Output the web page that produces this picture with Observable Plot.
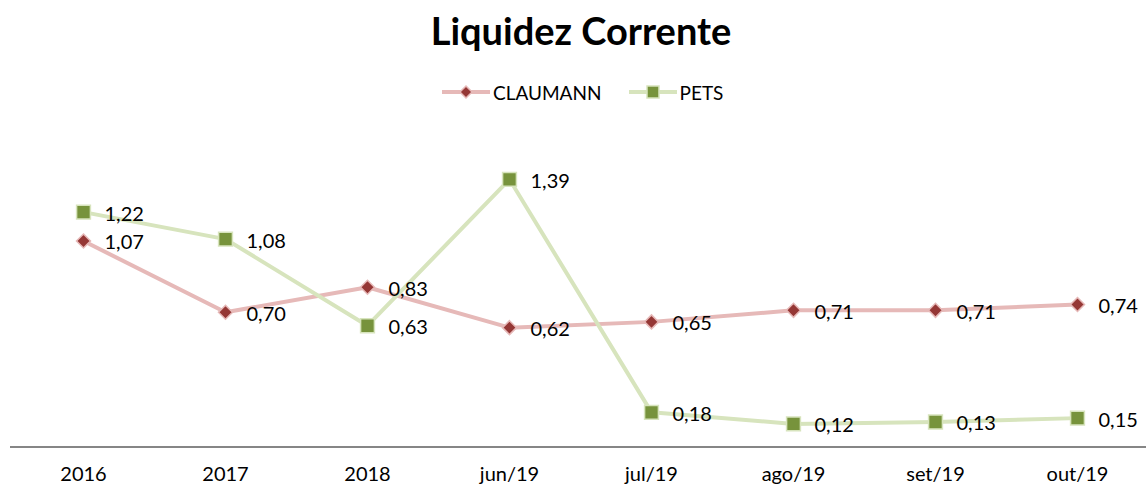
<!DOCTYPE html>
<html>
<head>
<meta charset="utf-8">
<script src="https://cdn.jsdelivr.net/npm/d3@7"></script>
<script src="https://cdn.jsdelivr.net/npm/@observablehq/plot@0.6"></script>
<style>
  html, body { margin: 0; padding: 0; background: #fff; }
  #wrap { position: relative; width: 1146px; height: 486px; overflow: hidden; font-family: Lato, "Open Sans", sans-serif; }
  #title { position: absolute; left: 8px; top: 6px; width: 1146px; text-align: center; font-size: 38px; font-weight: 700; color: #000; line-height: 48px; }
  #legend { position: absolute; left: 442px; top: 80px; height: 24px; display: flex; align-items: center; font-size: 19px; color: #000; }
  #legend .item { display: flex; align-items: center; margin-right: 27px; }
  #legend svg { margin-right: 3px; }
  #chart { position: absolute; left: 0; top: 110px; }
</style>
</head>
<body>
<div id="wrap">
  <div id="title">Liquidez Corrente</div>
  <div id="legend"></div>
  <div id="chart"></div>
</div>
<script>
const categories = ["2016", "2017", "2018", "jun/19", "jul/19", "ago/19", "set/19", "out/19"];
const claumann = [1.07, 0.70, 0.83, 0.62, 0.65, 0.71, 0.71, 0.74];
const pets = [1.22, 1.08, 0.63, 1.39, 0.18, 0.12, 0.13, 0.15];
const seriesNames = ["CLAUMANN", "PETS"];

const colors = {
  CLAUMANN: { line: "#e6b9b8", fill: "#953735", stroke: "#e6b9b8", symbol: "diamond2", r: 6.3 },
  PETS: { line: "#d7e4bd", fill: "#77933c", stroke: "#d7e4bd", symbol: "square", r: 7.8 }
};

const rows = [];
categories.forEach((c, i) => {
  rows.push({ cat: c, series: "CLAUMANN", value: claumann[i] });
  rows.push({ cat: c, series: "PETS", value: pets[i] });
});

const fmt = d3.formatLocale({ decimal: ",", thousands: ".", grouping: [3], currency: ["R$", ""] }).format(".2f");

// Legend
const legend = document.getElementById("legend");
seriesNames.forEach(name => {
  const st = colors[name];
  const item = document.createElement("div");
  item.className = "item";
  const ns = "http://www.w3.org/2000/svg";
  const svg = document.createElementNS(ns, "svg");
  svg.setAttribute("width", 48); svg.setAttribute("height", 20);
  const ln = document.createElementNS(ns, "line");
  ln.setAttribute("x1", 0); ln.setAttribute("x2", 48); ln.setAttribute("y1", 10); ln.setAttribute("y2", 10);
  ln.setAttribute("stroke", st.line); ln.setAttribute("stroke-width", 4);
  svg.appendChild(ln);
  const p = document.createElementNS(ns, "path");
  const size = Math.PI * st.r * st.r * 0.75;
  const sym = st.symbol === "square" ? d3.symbolSquare : d3.symbolDiamond2;
  p.setAttribute("d", d3.symbol(sym, size)());
  p.setAttribute("transform", "translate(24,10)");
  p.setAttribute("fill", st.fill); p.setAttribute("stroke", st.stroke); p.setAttribute("stroke-width", 1.5);
  svg.appendChild(p);
  item.appendChild(svg);
  const t = document.createElement("span");
  t.textContent = name;
  item.appendChild(t);
  legend.appendChild(item);
});

const marks = [Plot.ruleY([0], { stroke: "#868686", strokeWidth: 2 })];
seriesNames.forEach(name => {
  const st = colors[name];
  const data = rows.filter(d => d.series === name);
  marks.push(Plot.line(data, { x: "cat", y: "value", stroke: st.line, strokeWidth: 4, curve: "linear" }));
});
seriesNames.forEach(name => {
  const st = colors[name];
  const data = rows.filter(d => d.series === name);
  marks.push(Plot.dot(data, { x: "cat", y: "value", symbol: () => st.symbol, r: st.r, fill: st.fill, stroke: st.stroke, strokeWidth: 1.5 }));
  marks.push(Plot.text(data, { x: "cat", y: "value", text: d => fmt(d.value), textAnchor: "start", dx: 21, dy: 2, fontSize: 20, fill: "#000" }));
});
marks.push(Plot.axisX({ tickSize: 0, tickPadding: 20, fontSize: 20, label: null, color: "#000" }));

const chart = Plot.plot({
  width: 1146,
  height: 376,
  marginLeft: 10,
  marginRight: 0,
  marginTop: 0,
  marginBottom: 40,
  style: { fontFamily: "Lato, 'Open Sans', sans-serif", background: "transparent", color: "#000", overflow: "visible" },
  x: { type: "point", domain: categories, range: [80, 1080], padding: 0, label: null },
  y: { domain: [0, 1.6], range: [336.5, 336.5 - 1.6 * 192.5], axis: null },
  marks
});
document.getElementById("chart").appendChild(chart);
</script>
</body>
</html>
